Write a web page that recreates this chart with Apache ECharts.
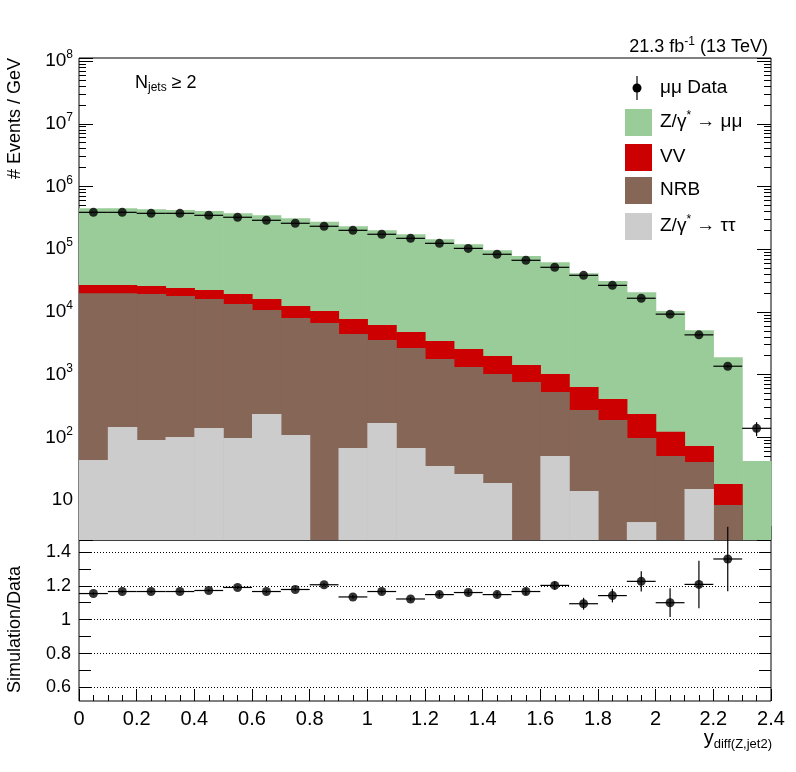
<!DOCTYPE html>
<html><head><meta charset="utf-8">
<script src="https://cdn.jsdelivr.net/npm/echarts@6/dist/echarts.min.js"></script>
<style>html,body{margin:0;padding:0;background:#fff}#c{width:796px;height:772px}</style>
</head><body><div id="c"></div>
<script>
const binLow = [0,0.1,0.2,0.3,0.4,0.5,0.6,0.7,0.8,0.9,1.0,1.1,1.2,1.3,1.4,1.5,1.6,1.7,1.8,1.9,2.0,2.1,2.2,2.3];
const zTauTau = [43.5,146,90.6,101,141,97.5,235,109,0,67.5,169,67.5,34.8,26,18.7,0,50.3,13.9,0,4.45,0,15,0,0];
const nrb = [19756,19654,19209,17899,15959,13302,10465,7891,6650,4372,3391,2592,1735,1294,1001,762,477,258,189,93,50.3,25.4,8.3,0];
const vv = [7100,7100,6600,6100,6300,5900,5400,4400,3650,3260,2640,2120,1660,1240,960,658,493,362,219,137.5,71.7,32.3,9.7,0];
const zMuMu = [422100,422100,407100,397900,383600,353700,330900,298600,264700,224300,193800,168200,140570,117440,94020,76580,60980,40666,30692,20365,10178,5027,1872,41.9];
const dataVal = [387000,387000,373000,373000,347000,323000,289000,259000,232000,200000,173000,149000,124000,103000,83000,66500,51400,38300,26500,16500,9200,4300,1360,139];
const dataErr = [600,600,600,600,600,600,550,500,480,450,420,390,350,320,290,260,230,200,160,130,100,70,60,35];
const ratioVal = [1.154,1.166,1.166,1.166,1.172,1.190,1.166,1.178,1.206,1.134,1.166,1.122,1.148,1.160,1.148,1.166,1.202,1.094,1.142,1.226,1.100,1.208,1.358];
const ratioErr = [0.008,0.008,0.008,0.008,0.008,0.009,0.009,0.01,0.01,0.011,0.012,0.013,0.014,0.015,0.017,0.02,0.025,0.035,0.04,0.06,0.085,0.14,0.19];
const ratioTicks = [0.6,0.8,1,1.2,1.4];

const YMIN = 2.3, YMAX = 1.12e8, W = 0.1;
const cum = (arrs) => binLow.map((_, i) => arrs.reduce((s, a) => s + a[i], 0));
const topTT = cum([zTauTau]);
const topNRB = cum([zTauTau, nrb]);
const topVV = cum([zTauTau, nrb, vv]);
const topZ = cum([zTauTau, nrb, vv, zMuMu]);

function histSeries(name, tops, color) {
  return {
    name, type: 'custom', xAxisIndex: 0, yAxisIndex: 0,
    data: binLow.map((x, i) => [x, x + W, tops[i]]),
    renderItem(params, api) {
      const top = api.value(2);
      if (!(top > YMIN)) return;
      const p0 = api.coord([api.value(0), Math.min(top, YMAX)]);
      const p1 = api.coord([api.value(1), YMIN]);
      return { type: 'rect', shape: { x: p0[0], y: p0[1], width: p1[0] - p0[0] + 0.6, height: p1[1] - p0[1] }, style: { fill: color } };
    }
  };
}
function errSeries(xi, yi, vals, errs) {
  return {
    type: 'custom', xAxisIndex: xi, yAxisIndex: yi, z: 5,
    data: vals.map((v, i) => [binLow[i], v, errs[i]]),
    renderItem(params, api) {
      const x = api.value(0), y = api.value(1), e = api.value(2);
      const a = api.coord([x, y]), b = api.coord([x + W, y]);
      const c = api.coord([x + W / 2, y - e > 0 ? y - e : y * 0.5]);
      const d = api.coord([x + W / 2, y + e]);
      const cs = api.coord([x + W / 2, y]);
      return { type: 'group', children: [
        { type: 'line', shape: { x1: a[0], y1: a[1], x2: b[0], y2: b[1] }, style: { stroke: '#000', lineWidth: 1.2 } },
        { type: 'line', shape: { x1: cs[0], y1: Math.max(c[1], d[1]), x2: cs[0], y2: Math.min(c[1], d[1]) }, style: { stroke: '#000', lineWidth: 1.2 } }
      ]};
    }
  };
}
const sup = { s: { fontSize: 12, verticalAlign: 'top', padding: [0, 0, 12, 0], fontFamily: 'Liberation Sans', color: '#000' } };
const font = 'Liberation Sans';

const chart = echarts.init(document.getElementById('c'), null, { renderer: 'canvas' });
chart.setOption({
  animation: false,
  textStyle: { fontFamily: font },
  grid: [
    { left: 79, width: 692, top: 58, height: 482, show: true, borderColor: '#000', borderWidth: 1, backgroundColor: 'transparent' },
    { left: 79, width: 692, top: 540, height: 161, show: true, borderColor: '#000', borderWidth: 1 }
  ],
  xAxis: [
    { type: 'value', gridIndex: 0, min: 0, max: 2.4, interval: 0.2, axisLine: { show: false },
      axisTick: { inside: true, length: 14, lineStyle: { color: '#000' } }, minorTick: { show: true, splitNumber: 4, length: 7, lineStyle: { color: '#000' } },
      axisLabel: { show: false }, splitLine: { show: false } },
    { type: 'value', gridIndex: 1, min: 0, max: 2.4, interval: 0.2, axisLine: { show: false },
      axisTick: { inside: true, length: 12, lineStyle: { color: '#000' } }, minorTick: { show: true, splitNumber: 4, length: 6, lineStyle: { color: '#000' } },
      axisLabel: { color: '#000', fontSize: 20, margin: 8, fontFamily: font }, splitLine: { show: false } }
  ],
  yAxis: [
    { type: 'log', gridIndex: 0, min: YMIN, max: YMAX, logBase: 10, axisLine: { show: false },
      axisTick: { inside: true, length: 14, lineStyle: { color: '#000' } }, minorTick: { show: true, splitNumber: 9, length: 7, lineStyle: { color: '#000' } },
      splitLine: { show: false },
      axisLabel: { color: '#000', fontSize: 19, fontFamily: font, margin: 6, rich: sup, showMinLabel: false,
        formatter: v => { if (v < 5) return ''; const n = Math.round(Math.log10(v)); return n === 1 ? '10' : '10{s|' + n + '}'; } } },
    { type: 'log', gridIndex: 0, position: 'right', min: YMIN, max: YMAX, logBase: 10, axisLine: { show: false },
      axisTick: { inside: true, length: 14, lineStyle: { color: '#000' } }, minorTick: { show: true, splitNumber: 9, length: 7, lineStyle: { color: '#000' } },
      splitLine: { show: false }, axisLabel: { show: false } },
    { type: 'value', gridIndex: 1, min: 0.52, max: 1.47, axisLine: { show: false },
      axisTick: { inside: true, length: 12, customValues: [0.6,0.7,0.8,0.9,1,1.1,1.2,1.3,1.4], lineStyle: { color: '#000' } },
      splitLine: { show: false },
      axisLabel: { color: '#000', fontSize: 18, fontFamily: font, customValues: ratioTicks, formatter: v => String(v) } },
    { type: 'value', gridIndex: 1, position: 'right', min: 0.52, max: 1.47, axisLine: { show: false },
      axisTick: { inside: true, length: 12, customValues: [0.6,0.7,0.8,0.9,1,1.1,1.2,1.3,1.4], lineStyle: { color: '#000' } },
      splitLine: { show: false }, axisLabel: { show: false } }
  ],
  series: [
    histSeries('Z/γ* → μμ', topZ, '#99cc99'),
    histSeries('VV', topVV, '#cc0000'),
    histSeries('NRB', topNRB, '#866657'),
    histSeries('Z/γ* → ττ', topTT, '#cccccc'),
    errSeries(0, 0, dataVal, dataErr),
    { name: 'μμ Data', type: 'scatter', xAxisIndex: 0, yAxisIndex: 0, z: 6, symbolSize: 9, itemStyle: { color: '#000' },
      data: binLow.map((x, i) => [x + W / 2, dataVal[i]]) },
    { type: 'line', xAxisIndex: 1, yAxisIndex: 2, data: [], symbol: 'none',
      markLine: { silent: true, symbol: 'none', label: { show: false }, lineStyle: { color: '#000', type: [1, 2], width: 1 },
        data: ratioTicks.map(v => ({ yAxis: v })) } },
    errSeries(1, 2, ratioVal, ratioErr),
    { type: 'scatter', xAxisIndex: 1, yAxisIndex: 2, z: 6, symbolSize: 9, itemStyle: { color: '#000' },
      data: ratioVal.map((v, i) => [binLow[i] + W / 2, v]) }
  ],
  graphic: [
    { type: 'text', right: 28, top: 36, style: { text: '21.3 fb{s|-1} (13 TeV)', font: '18px ' + font, fill: '#000', rich: { s: { fontSize: 12, verticalAlign: 'top', padding: [0,0,10,0] } } } },
    { type: 'text', left: 135, top: 74, style: { text: 'N{b|jets} ≥ 2', font: '18px ' + font, fill: '#000', rich: { b: { fontSize: 12, padding: [10,0,0,0] } } } },
    { type: 'text', rotation: Math.PI / 2, left: 6, top: 58, style: { text: '# Events / GeV', font: '18px ' + font, fill: '#000' } },
    { type: 'text', rotation: Math.PI / 2, left: 6, top: 566, style: { text: 'Simulation/Data', font: '18px ' + font, fill: '#000' } },
    { type: 'text', right: 24, top: 728, style: { text: 'y{b|diff(Z,jet2)}', font: '20px ' + font, fill: '#000', rich: { b: { fontSize: 13, padding: [12,0,0,0] } } } },
    { type: 'circle', shape: { cx: 637, cy: 88, r: 4.5 }, style: { fill: '#000' } },
    { type: 'line', shape: { x1: 637, y1: 76, x2: 637, y2: 100 }, style: { stroke: '#000', lineWidth: 1.2 } },
    { type: 'text', left: 660, top: 78, style: { text: 'μμ Data', font: '19px ' + font, fill: '#000' } },
    { type: 'rect', shape: { x: 625, y: 109, width: 27, height: 27 }, style: { fill: '#99cc99' } },
    { type: 'text', left: 660, top: 110, style: { text: 'Z/γ{s|*} → μμ', font: '19px ' + font, fill: '#000', rich: sup } },
    { type: 'rect', shape: { x: 625, y: 144, width: 27, height: 27 }, style: { fill: '#cc0000' } },
    { type: 'text', left: 660, top: 147, style: { text: 'VV', font: '19px ' + font, fill: '#000' } },
    { type: 'rect', shape: { x: 625, y: 177, width: 27, height: 27 }, style: { fill: '#866657' } },
    { type: 'text', left: 660, top: 180, style: { text: 'NRB', font: '19px ' + font, fill: '#000' } },
    { type: 'rect', shape: { x: 625, y: 213, width: 27, height: 27 }, style: { fill: '#cccccc' } },
    { type: 'text', left: 660, top: 214, style: { text: 'Z/γ{s|*} → ττ', font: '19px ' + font, fill: '#000', rich: sup } }
  ]
});
</script></body></html>
